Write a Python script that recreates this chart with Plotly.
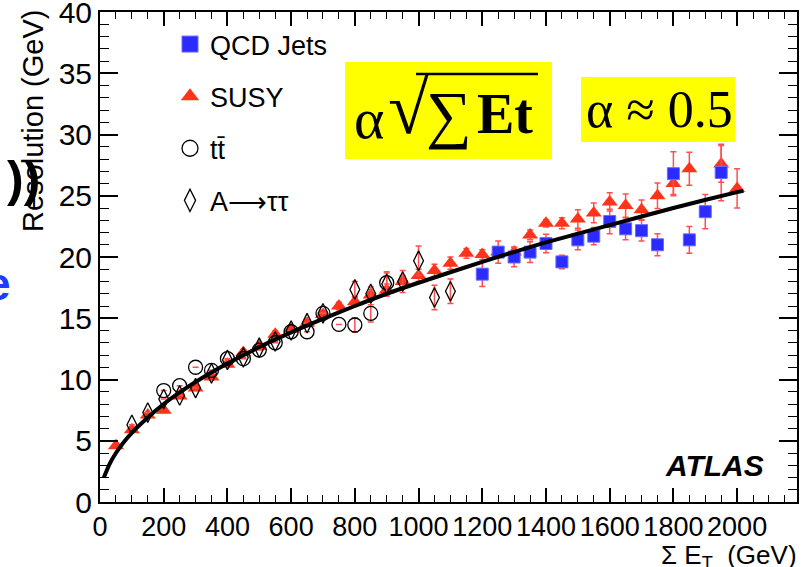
import plotly.graph_objects as go

# ---------------- data ----------------
qcd_x = [1200, 1250, 1300, 1350, 1400, 1450, 1500, 1550, 1600, 1650, 1700, 1750, 1800, 1850, 1900, 1950]
qcd_y = [18.6, 20.4, 20.0, 20.4, 21.1, 19.6, 21.4, 21.7, 22.9, 22.3, 22.15, 21.0, 26.8, 21.4, 23.7, 26.9]
qcd_err = [1.0, 0.9, 0.8, 0.85, 0.75, 0.55, 0.8, 0.7, 1.0, 0.9, 0.85, 0.9, 1.8, 1.1, 1.4, 2.3]

susy_x = [50, 100, 150, 200, 250, 300, 350, 400, 450, 500, 550, 600, 650, 700, 750, 800, 850, 900,
          950, 1000, 1050, 1100, 1150, 1200, 1250, 1300, 1350, 1400, 1450, 1500, 1550, 1600, 1650,
          1700, 1750, 1800, 1850, 1950, 2000]
susy_y = [4.6, 5.9, 7.1, 7.5, 8.65, 9.3, 10.2, 11.25, 12.2, 12.7, 13.7, 14.1, 14.6, 15.3, 16.0, 16.35,
          16.9, 17.3, 18.0, 18.5, 18.9, 19.5, 20.3, 20.2, 20.4, 20.4, 21.8, 22.75, 22.75, 23.1, 23.6,
          24.5, 24.2, 23.85, 25.0, 26.0, 27.2, 27.6, 25.6]
susy_err = [0.15, 0.15, 0.15, 0.2, 0.2, 0.2, 0.2, 0.2, 0.25, 0.25, 0.25, 0.25, 0.3, 0.3, 0.3, 0.4,
            0.45, 0.5, 0.5, 0.5, 0.5, 0.5, 0.4, 0.4, 0.4, 0.4, 0.4, 0.3, 0.45, 0.75, 0.8,
            0.75, 0.95, 0.8, 1.05, 0.9, 1.35, 1.5, 1.6]

tt_x = [200, 250, 300, 350, 400, 450, 500, 550, 600, 650, 700, 750, 800, 850, 900]
tt_y = [9.1, 9.5, 11.0, 10.75, 11.7, 11.7, 12.4, 13.0, 13.9, 13.9, 15.4, 14.5, 14.45, 15.4, 17.9]
tt_err = [0, 0, 0, 0, 0, 0, 0, 0, 0, 0, 0, 0, 0.6, 0.7, 0.9]

a_x = [100, 150, 200, 250, 300, 350, 400, 450, 500, 550, 600, 650, 700, 800, 850, 900, 950, 1000, 1050, 1100]
a_y = [6.3, 7.3, 8.4, 8.7, 9.3, 10.5, 11.6, 11.8, 12.6, 13.1, 14.0, 14.6, 15.4, 17.35, 17.0, 17.8, 18.0, 19.7, 16.7, 17.2]
a_err = [0, 0, 0, 0, 0, 0, 0, 0, 0, 0, 0, 0, 0, 0.65, 0.55, 0.9, 0.9, 1.2, 1.0, 1.0]

fit_x = [12, 30, 50, 75, 100, 150, 200, 250, 300, 400, 500, 600, 700, 800, 900, 1000, 1200, 1400, 1600, 1800, 2000, 2020]
fit_y = [2.0, 3.1, 4.0, 4.9, 5.65, 6.9, 8.0, 8.95, 9.8, 11.3, 12.65, 13.85, 14.95, 16.0, 17.0, 17.9, 19.6, 21.2, 22.6, 24.0, 25.3, 25.4]

x_ticks = [0, 200, 400, 600, 800, 1000, 1200, 1400, 1600, 1800, 2000]
y_ticks = [0, 5, 10, 15, 20, 25, 30, 35, 40]

legend_names = ["QCD Jets", "SUSY", "tt\u0304", "A\u27f6\u03c4\u03c4"]

# ---------------- layout helpers ----------------
W, H = 810, 567
L, R, T, B = 100, 13, 12, 65
PW, PH = W - L - R, H - T - B
X_MAX, Y_MAX = 2188, 40.0001


def px(X):
    return (X - L) / PW


def py(Y):
    return (H - B - Y) / PH


FONT = "Liberation Sans"
SERIF = "Liberation Serif"
RED = "#ff3319"
BLUE = "#2b2bff"
ERR = "#ff5050"

sym = {
    "qcd": dict(symbol="square", color=BLUE, line=dict(width=1, color="#6a6aff")),
    "susy": dict(symbol="triangle-up", color=RED, line=dict(width=0)),
    "tt": dict(symbol="circle-open", color="black", line=dict(width=1.3, color="black")),
    "a": dict(symbol="diamond-tall-open", color="black", line=dict(width=1.3, color="black")),
}
sizes = {"qcd": 12, "susy": 14, "tt": 14, "a": 14}

fig = go.Figure()

series = [
    ("susy", susy_x, susy_y, susy_err),
    ("tt", tt_x, tt_y, tt_err),
    ("a", a_x, a_y, a_err),
    ("qcd", qcd_x, qcd_y, qcd_err),
]
for key, xs, ys, es in series:
    fig.add_trace(go.Scatter(
        x=xs, y=ys, mode="markers", showlegend=False, hoverinfo="x+y",
        marker=dict(size=sizes[key], **sym[key]),
        error_y=dict(type="data", array=es, color=ERR, thickness=1.5, width=3)))

fig.add_trace(go.Scatter(
    x=fit_x, y=fit_y, mode="lines", showlegend=False, hoverinfo="skip",
    line=dict(color="black", width=4, shape="spline", smoothing=0.6)))

# legend entries (larger symbols, as in the reference legend)
for rank, (key, name) in enumerate(zip(["qcd", "susy", "tt", "a"], legend_names)):
    fig.add_trace(go.Scatter(
        x=[None], y=[None], mode="markers", name=name, legendgroup=key, legendrank=rank + 1,
        marker=dict(size=17, **sym[key])))

axis_common = dict(showline=True, linecolor="black", linewidth=2, mirror="ticks", ticks="inside",
                   tickcolor="black", tickwidth=1.5, showgrid=False, zeroline=False, automargin=False,
                   ticklabeloverflow="allow")

fig.update_layout(
    width=W, height=H, margin=dict(l=L, r=R, t=T, b=B, autoexpand=False),
    paper_bgcolor="white", plot_bgcolor="white",
    xaxis=dict(range=[0, X_MAX], tickvals=x_ticks, ticklen=14, tickangle=0,
               tickfont=dict(family=FONT, size=27, color="black"),
               minor=dict(ticks="inside", ticklen=7, tickwidth=1.2, tickcolor="black", dtick=50, tick0=0, showgrid=False),
               **axis_common),
    yaxis=dict(range=[0, Y_MAX], tickvals=y_ticks, ticklen=18,
               tickfont=dict(family=FONT, size=30, color="black"),
               minor=dict(ticks="inside", ticklen=9, tickwidth=1.2, tickcolor="black", dtick=1, tick0=0, showgrid=False),
               **axis_common),
    legend=dict(x=px(170), y=py(20), xanchor="left", yanchor="top", bgcolor="rgba(0,0,0,0)",
                font=dict(family=FONT, size=27, color="black"), tracegroupgap=14, itemsizing="trace"),
    showlegend=True,
)

shapes = [
    dict(type="rect", xref="paper", yref="paper", x0=px(345), x1=px(552), y0=py(159), y1=py(62),
         fillcolor="#ffff00", line=dict(width=0), layer="above"),
    dict(type="rect", xref="paper", yref="paper", x0=px(581), x1=px(735), y0=py(142), y1=py(77),
         fillcolor="#ffff00", line=dict(width=0), layer="above"),
    dict(type="line", xref="paper", yref="paper", x0=px(416), x1=px(538), y0=py(74), y1=py(74),
         line=dict(color="black", width=2.5), layer="above"),
]
fig.update_layout(shapes=shapes)

ann = []
# formula box 1
ann.append(dict(text="\u03b1", x=px(369), y=py(119), font=dict(family=SERIF, size=58, color="black")))
ann.append(dict(text="\u221a", x=px(408), y=py(108), font=dict(family=SERIF, size=74, color="black")))
ann.append(dict(text="\u2211", x=px(449), y=py(114), font=dict(family=SERIF, size=64, color="black")))
ann.append(dict(text="<b>Et</b>", x=px(505), y=py(114), font=dict(family=SERIF, size=56, color="black")))
# formula box 2
ann.append(dict(text="\u03b1 \u2248 0.5", x=px(659), y=py(110), font=dict(family=SERIF, size=52, color="black")))
# axis titles
ann.append(dict(text="Resolution (GeV)", x=px(33), y=py(8), xanchor="center", yanchor="top", textangle=-90,
                font=dict(family=FONT, size=29, color="black")))
ann.append(dict(text="\u03a3 E<sub>T</sub>\u00a0\u00a0(GeV)", x=px(799), y=py(556), xanchor="right", yanchor="middle",
                font=dict(family=FONT, size=26, color="black")))
# ATLAS label
ann.append(dict(text="<b><i>ATLAS</i></b>", x=px(766), y=py(465), xanchor="right", yanchor="middle",
                font=dict(family=FONT, size=30, color="black")))
# cropped slide fragments at the left edge
ann.append(dict(text="<b>))</b>", x=px(23), y=py(179), xanchor="center", yanchor="middle",
                font=dict(family=FONT, size=50, color="black")))
ann.append(dict(text="<b>e</b>", x=px(-2), y=py(284), xanchor="center", yanchor="middle",
                font=dict(family=FONT, size=46, color="#1f3dff")))

for a in ann:
    a.setdefault("xref", "paper")
    a.setdefault("yref", "paper")
    a.setdefault("showarrow", False)
    a.setdefault("xanchor", "center")
    a.setdefault("yanchor", "middle")
fig.update_layout(annotations=ann)

fig.write_html("out.html", config={"displayModeBar": False},
               post_script="document.body.style.margin='0';document.body.style.padding='0';")
